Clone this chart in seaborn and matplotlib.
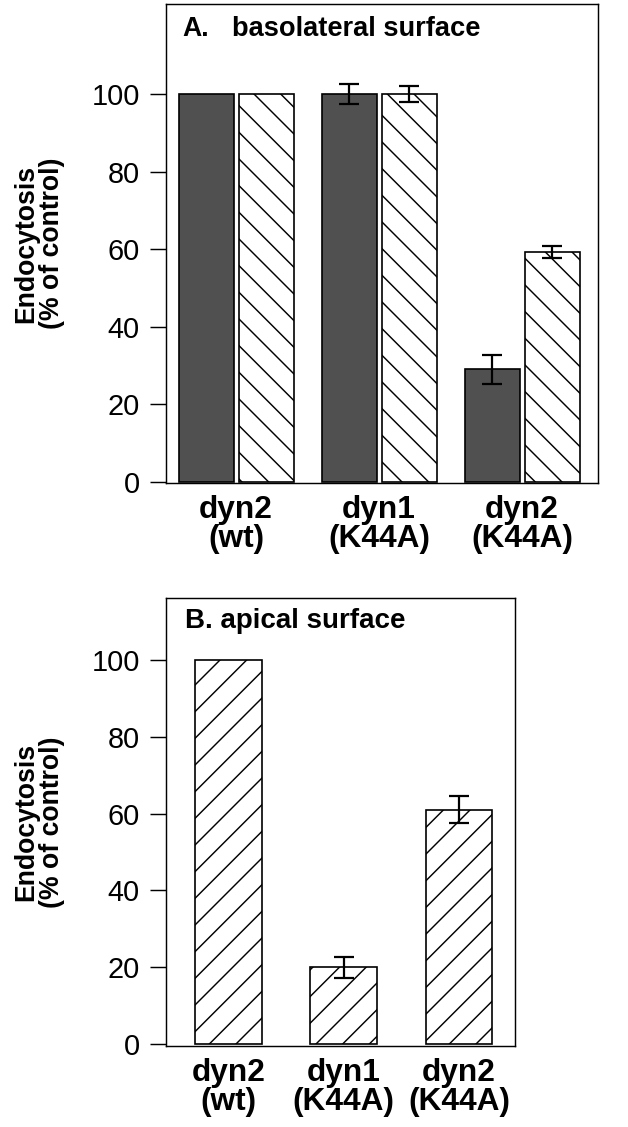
import numpy as np
import pandas as pd
import matplotlib
matplotlib.use("Agg")
import matplotlib.pyplot as plt
import seaborn as sns

# ---------------- data ----------------
categories = ["dyn2\n(wt)", "dyn1\n(K44A)", "dyn2\n(K44A)"]
a_solid = [100, 100, 29]
a_solid_err = [np.nan, 2.5, 3.7]
a_hatched = [100, 100, 59.3]
a_hatched_err = [np.nan, 2.0, 1.5]
b_values = [100, 20, 61]
b_err = [np.nan, 2.7, 3.5]
yticks = [0, 20, 40, 60, 80, 100]
ylabel = "Endocytosis\n(% of control)"

# ---------------- style ----------------
sns.set_style("white")
plt.rcParams["font.family"] = ["Liberation Sans", "DejaVu Sans"]
plt.rcParams["hatch.linewidth"] = 1.3
plt.rcParams["axes.linewidth"] = 1.3
for k in ("text.color", "axes.labelcolor", "xtick.color", "ytick.color",
          "axes.edgecolor"):
    plt.rcParams[k] = "black"

DPI = 80
fig = plt.figure(figsize=(628 / DPI, 1127 / DPI), dpi=DPI)
W, H = 628, 1127

def px_axes(l, t, r, b):
    return fig.add_axes([l / W, (H - b) / H, (r - l) / W, (b - t) / H])

axA = px_axes(166, 4, 598, 483)
axB = px_axes(166, 598, 515, 1046)

dark = "#505050"

# ---------------- panel A ----------------
dfA = pd.DataFrame({
    "category": categories * 2,
    "condition": ["solid"] * 3 + ["hatched"] * 3,
    "value": a_solid + a_hatched,
})
sns.barplot(data=dfA, x="category", y="value", hue="condition",
            order=categories, hue_order=["solid", "hatched"],
            palette={"solid": dark, "hatched": "white"},
            width=0.84, gap=0.083, edgecolor="black", linewidth=1.5,
            errorbar=None, legend=False, ax=axA, zorder=2)
for bar in axA.containers[1]:
    bar.set_hatch("\\")
errs = [a_solid_err, a_hatched_err]
vals = [a_solid, a_hatched]
for cont, v, e in zip(axA.containers, vals, errs):
    xs = [b.get_x() + b.get_width() / 2 for b in cont]
    axA.errorbar(xs, v, yerr=e, fmt="none", ecolor="black",
                 elinewidth=2.0, capsize=9, capthick=2.0, zorder=5)

axA.set_xlim(-0.49, 2.53)
axA.set_ylim(-0.3, 123.2)
axA.text(0.037, 0.933, "A.", transform=axA.transAxes, fontsize=24,
         fontweight="bold", va="baseline", ha="left")
axA.text(0.153, 0.933, "basolateral surface", transform=axA.transAxes,
         fontsize=24.5, fontweight="bold", va="baseline", ha="left")
axA.yaxis.set_label_coords(-0.234, 0.5)

# ---------------- panel B ----------------
dfB = pd.DataFrame({"category": categories, "value": b_values})
sns.barplot(data=dfB, x="category", y="value", order=categories,
            color="white", width=0.58, edgecolor="black", linewidth=1.5,
            errorbar=None, ax=axB, zorder=2)
for bar in axB.containers[0]:
    bar.set_hatch("/")
xsB = [b.get_x() + b.get_width() / 2 for b in axB.containers[0]]
axB.errorbar(xsB, b_values, yerr=b_err, fmt="none", ecolor="black",
             elinewidth=2.0, capsize=9, capthick=2.0, zorder=5)
axB.set_xlim(-0.54, 2.486)
axB.set_ylim(-0.5, 116.1)
axB.text(0.054, 0.933, "B. apical surface", transform=axB.transAxes,
         fontsize=25, fontweight="bold", va="baseline", ha="left")
axB.yaxis.set_label_coords(-0.289, 0.5)

# ---------------- common axes styling ----------------
for ax in (axA, axB):
    ax.set_yticks(yticks)
    ax.set_yticklabels([str(t) for t in yticks])
    ax.set_ylabel(ylabel, fontsize=24, fontweight="bold", linespacing=1.0)
    ax.set_xlabel("")
    ax.tick_params(axis="y", direction="out", length=14.4, width=1.3,
                   pad=9, labelsize=26, left=True)
    ax.tick_params(axis="x", length=0, pad=11, labelsize=28.5)
    for lab in ax.get_xticklabels():
        lab.set_fontweight("bold")
        lab.set_linespacing(0.95)
    for s in ax.spines.values():
        s.set_visible(True)
        s.set_color("black")
        s.set_linewidth(1.3)

fig.savefig("out.png", dpi=DPI, facecolor="white")
